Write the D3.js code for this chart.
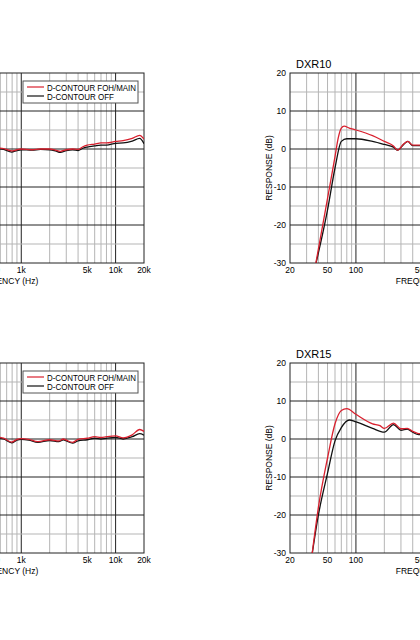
<!DOCTYPE html>
<html><head><meta charset="utf-8">
<script src="https://cdn.jsdelivr.net/npm/d3@7/dist/d3.min.js"></script>
<style>body{margin:0;background:#fff}svg{display:block}</style>
</head><body>
<script>
const dbTicks = [20, 10, 0, -10, -20, -30];
const freqTickLabels = [[20,"20"],[50,"50"],[100,"100"],[500,"500"],[1000,"1k"],[5000,"5k"],[10000,"10k"],[20000,"20k"]];
const legendLabels = ["D-CONTOUR FOH/MAIN", "D-CONTOUR OFF"];

// [freq Hz, dB]
const dxr8Red = [[550,0.3],[650,0.1],[790,-0.5],[900,-0.2],[1000,0],[1300,-0.2],[1600,0],[2000,0],[2300,-0.3],[2600,-0.6],[3000,-0.2],[3500,0],[4000,-0.1],[4500,0.6],[5000,1.0],[6000,1.3],[7000,1.6],[8000,1.6],[10000,2.0],[12000,2.2],[15000,2.8],[18000,3.6],[20000,2.6]];
const dxr8Black = [[550,0.1],[650,-0.1],[790,-0.8],[900,-0.4],[1000,-0.2],[1300,-0.3],[1600,-0.1],[2000,-0.2],[2300,-0.5],[2600,-0.9],[3000,-0.4],[3500,-0.2],[4000,-0.4],[4500,0.2],[5000,0.5],[6000,0.8],[7000,1.0],[8000,1.0],[10000,1.5],[12000,1.6],[15000,2.1],[18000,2.8],[20000,1.4]];
const dxr12Red = [[550,0.6],[650,0.2],[790,-0.8],[900,-0.1],[1000,0.1],[1200,-0.1],[1500,-0.7],[2000,-0.2],[2500,-0.5],[2800,0],[3000,-0.3],[3500,-0.9],[4000,-0.1],[5000,0.2],[6000,0.6],[7000,0.4],[8000,0.6],[10000,0.8],[12000,0.3],[15000,1.1],[18000,2.5],[20000,2.0]];
const dxr12Black = [[550,0.4],[650,0],[790,-1.0],[900,-0.3],[1000,-0.1],[1200,-0.3],[1500,-0.9],[2000,-0.4],[2500,-0.7],[2800,-0.2],[3000,-0.5],[3500,-1.1],[4000,-0.5],[5000,-0.2],[6000,0.2],[7000,0],[8000,0.2],[10000,0.4],[12000,0],[15000,0.6],[18000,1.4],[20000,1.0]];
const dxr10Red = [[37,-31],[50,-13],[60,-2],[65,3],[70,5.5],[75,6],[85,5.5],[100,5],[150,3.5],[200,2],[250,0.8],[277,-0.3],[320,1.3],[355,2],[400,1],[500,1],[600,1]];
const dxr10Black = [[37,-31],[50,-16],[60,-5],[70,2],[80,2.7],[100,2.7],[150,2],[200,1.2],[250,0.5],[277,-0.3],[320,1.2],[355,2],[400,0.9],[500,0.9],[600,0.9]];
const dxr15Red = [[34,-31],[40,-18],[50,-5],[60,4],[70,7.5],[80,8],[100,6.5],[150,4],[180,3.5],[200,2.8],[250,4.2],[300,2.7],[350,2.8],[400,2],[450,1.5],[600,1.2]];
const dxr15Black = [[34,-31],[40,-20],[50,-9],[60,-0.5],[70,3],[85,5],[100,4.5],[150,2.8],[200,1.8],[250,3.8],[300,2.3],[350,2.6],[400,1.8],[450,1.2],[600,1]];

const svg = d3.select("body").append("svg").attr("width",420).attr("height",640);
const W = 283, H = 190;
const font = "Liberation Sans, Arial, sans-serif";

function drawChart(ox, oy, title, red, black, legend){
  const g = svg.append("g").attr("transform",`translate(${ox},${oy})`);
  const x = d3.scaleLog().domain([20,20000]).range([0,W]);
  const y = d3.scaleLinear().domain([-30,20]).range([H,0]);
  const minor = [];
  [10,100,1000,10000].forEach(d=>{for(let k=2;k<=9;k++){const f=d*k; if(f>20&&f<20000) minor.push(f);}});
  g.selectAll(".vm").data(minor).join("line").attr("x1",d=>x(d)).attr("x2",d=>x(d)).attr("y1",0).attr("y2",H).attr("stroke","#b5b5b5").attr("stroke-width",1);
  g.selectAll(".vM").data([100,1000,10000]).join("line").attr("x1",d=>x(d)).attr("x2",d=>x(d)).attr("y1",0).attr("y2",H).attr("stroke","#222").attr("stroke-width",1);
  const hMinor = d3.range(-25,20,10);
  g.selectAll(".hm").data(hMinor).join("line").attr("x1",0).attr("x2",W).attr("y1",d=>y(d)).attr("y2",d=>y(d)).attr("stroke","#b5b5b5");
  g.selectAll(".hM").data([10,0,-10,-20]).join("line").attr("x1",0).attr("x2",W).attr("y1",d=>y(d)).attr("y2",d=>y(d)).attr("stroke","#222");
  g.append("rect").attr("width",W).attr("height",H).attr("fill","none").attr("stroke","#222");
  g.selectAll(".yt").data(dbTicks).join("text").attr("x",-4).attr("y",d=>y(d)+3).attr("text-anchor","end")
    .attr("font-family",font).attr("font-size",8.5).text(d=>d);
  g.selectAll(".xt").data(freqTickLabels).join("text").attr("x",d=>x(d[0])).attr("y",H+10).attr("text-anchor","middle")
    .attr("font-family",font).attr("font-size",8.5).text(d=>d[1]);
  g.append("text").attr("x",W/2).attr("y",H+21).attr("text-anchor","middle").attr("font-family",font).attr("font-size",8.5).text("FREQUENCY (Hz)");
  g.append("text").attr("transform",`translate(-18,${H/2}) rotate(-90)`).attr("text-anchor","middle").attr("font-family",font).attr("font-size",8.5).text("RESPONSE (dB)");
  g.append("text").attr("x",6).attr("y",-5).attr("font-family",font).attr("font-size",11).text(title);
  const clip = "clip"+title;
  g.append("clipPath").attr("id",clip).append("rect").attr("width",W).attr("height",H);
  const line = d3.line().x(d=>x(d[0])).y(d=>y(d[1])).curve(d3.curveMonotoneX);
  g.append("path").datum(black).attr("d",line).attr("fill","none").attr("stroke","#111").attr("stroke-width",1.3).attr("clip-path",`url(#${clip})`);
  g.append("path").datum(red).attr("d",line).attr("fill","none").attr("stroke","#d9202e").attr("stroke-width",1.3).attr("clip-path",`url(#${clip})`);
  if(legend){
    const lg = g.append("g").attr("transform",`translate(${W-121},8)`);
    lg.append("rect").attr("width",115).attr("height",22).attr("fill","#fff").attr("stroke","#555");
    [["#d9202e",legendLabels[0],89],["#111",legendLabels[1],67]].forEach((d,i)=>{
      lg.append("line").attr("x1",4).attr("x2",21).attr("y1",6+i*9).attr("y2",6+i*9).attr("stroke",d[0]).attr("stroke-width",1.2);
      lg.append("text").attr("x",24).attr("y",9.5+i*9).attr("font-family",font).attr("font-size",8.5)
        .attr("textLength",d[2]).attr("lengthAdjust","spacingAndGlyphs").text(d[1]);
    });
  }
}
drawChart(-139,73,"DXR8",dxr8Red,dxr8Black,true);
drawChart(290,73,"DXR10",dxr10Red,dxr10Black,false);
drawChart(-139,363,"DXR12",dxr12Red,dxr12Black,true);
drawChart(290,363,"DXR15",dxr15Red,dxr15Black,false);
</script>
</body></html>
